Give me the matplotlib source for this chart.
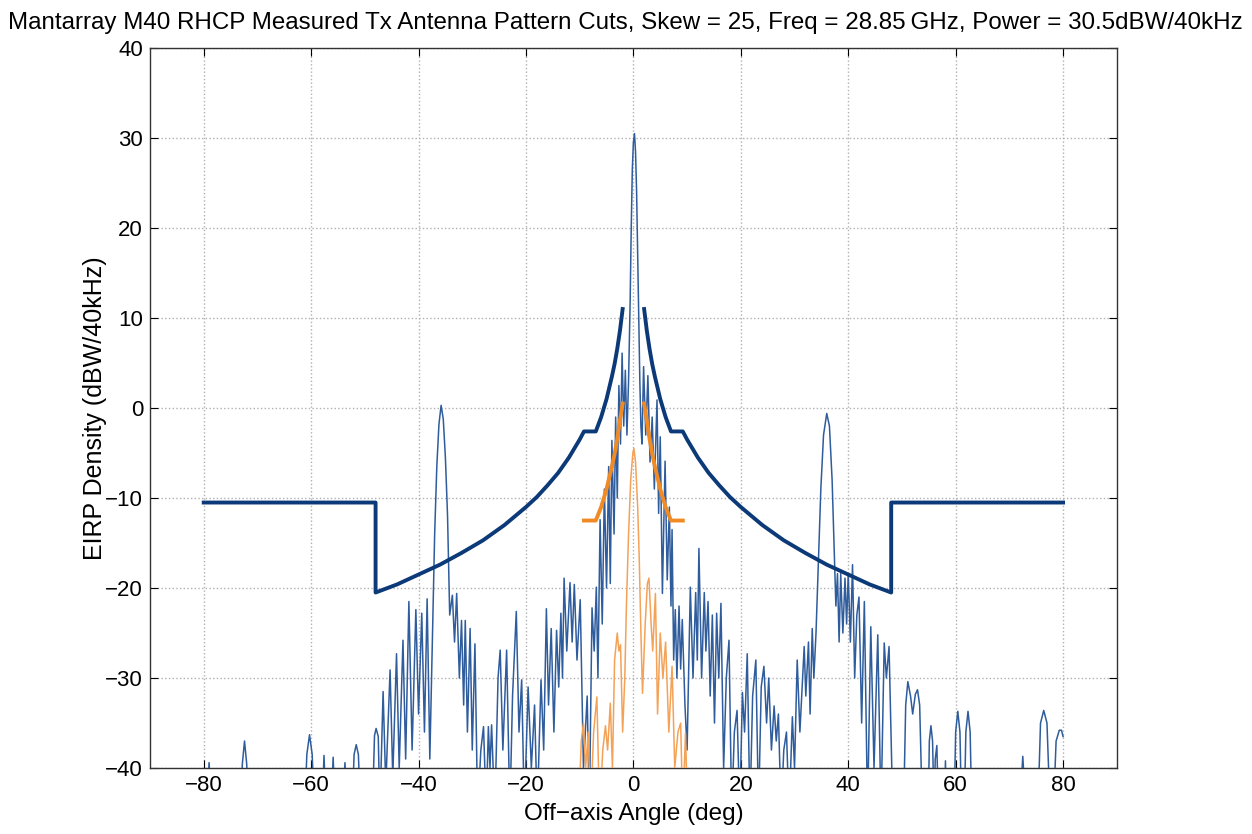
import numpy as np
import matplotlib
matplotlib.use('Agg')
import matplotlib.pyplot as plt

plt.rcParams['font.family'] = ['Liberation Sans', 'DejaVu Sans']

# Measured co-pol cut (thin blue), -45 means below the floor
copol_ang = [-80.0, -79.4, -79.0, -78.6,
             -73.2, -72.8, -72.4, -72.0, -71.6,
             -61.2, -60.8, -60.3, -59.8, -59.4,
             -58.0, -57.6, -57.2, -56.3, -55.9, -55.5, -54.1, -53.7, -53.3,
             -52.4, -52.0, -51.6, -51.2, -50.8,
             -48.6, -48.2, -47.9, -47.5, -47.2,
             -46.6, -46.1, -45.3, -44.8, -44.1, -43.6, -42.9, -42.4, -41.8, -41.2,
             -40.5, -40.0, -39.4, -38.9, -38.4, -37.9,
             -37.4, -37.0, -36.6, -36.2, -35.8, -35.4, -35.0, -34.6, -34.2,
             -33.7, -33.3, -32.9, -32.4, -32.0, -31.6, -31.3, -30.9, -30.4, -30.0,
             -29.5, -29.0, -28.4, -27.9, -27.4, -27.0, -26.7, -26.4, -25.8, -25.2,
             -24.8, -24.3, -23.6, -23.0, -22.5, -21.8, -21.3, -20.8, -20.3, -19.6,
             -19.0, -18.4, -17.9, -17.2, -16.7, -16.2, -15.8, -15.3, -14.8, -14.3,
             -13.9, -13.5, -13.2, -12.9, -12.4, -11.8, -11.4, -11.0, -10.5, -9.9,
             -9.3, -8.6, -8.2, -7.7, -7.3, -6.9, -6.6, -6.2, -5.8, -5.4,
             -5.0, -4.6, -4.3, -4.0, -3.6, -3.3, -3.0, -2.7, -2.4, -2.1,
             -1.8, -1.5, -1.2,
             -0.9, -0.6, -0.4, -0.2, 0.0, 0.2, 0.4, 0.6, 0.8, 1.0, 1.2, 1.4,
             1.6, 1.9, 2.3, 2.7, 3.1, 3.5, 3.9, 4.4, 4.7, 5.0,
             5.4, 5.9, 6.3, 6.7, 7.0, 7.2, 7.5, 7.8, 8.1, 8.5,
             8.8, 9.1, 9.6, 10.0, 10.6, 11.1, 11.6, 11.9, 12.2, 12.7,
             13.2, 13.5, 13.9, 14.3, 14.7, 15.1, 15.5, 15.9, 16.3, 16.8,
             17.3, 17.8, 18.3, 18.8, 19.3, 19.8, 20.3, 20.7, 21.2, 21.7,
             22.2, 22.8, 23.3, 23.8, 24.3, 24.8, 25.2, 25.7, 26.2, 26.6,
             27.0, 27.5, 28.0, 28.5, 29.0, 29.6, 30.0, 30.5, 31.0, 31.8,
             32.1, 32.6, 32.9, 33.3, 33.6,
             34.0, 34.4, 34.9, 35.4, 36.0, 36.5, 37.0, 37.4, 37.7,
             38.0, 38.3, 38.6, 39.0, 39.4, 39.7, 40.0, 40.4, 40.8, 41.2,
             41.6, 42.0, 42.5, 43.0, 43.6, 44.2, 44.8, 45.5, 46.1, 46.7,
             47.1, 47.6, 48.3,
             50.3, 50.7, 51.1, 51.6, 52.0, 52.5, 52.9, 53.3, 53.8,
             54.9, 55.1, 55.4, 55.7, 56.0, 56.2, 56.5, 56.8,
             57.9, 58.1, 58.3,
             59.7, 60.0, 60.4, 60.8, 61.1, 61.6, 61.9, 62.3, 62.7, 63.0,
             71.9, 72.5, 73.1,
             75.3, 75.8, 76.4, 77.0, 77.6, 78.2, 78.7, 79.3, 79.7, 80.0]
copol_db = [-45, -45, -39.4, -45,
            -45, -39.5, -37.0, -39.5, -45,
            -45, -38.5, -36.3, -38.5, -45,
            -45, -38.6, -45, -45, -38.8, -45, -45, -39.4, -45,
            -45, -38.5, -37.4, -38.5, -45,
            -45, -36.4, -35.6, -36.5, -45,
            -31.5, -42, -29.1, -41, -27.3, -40, -25.8, -39, -21.5, -38,
            -22.4, -34, -22.8, -36, -21.2, -39,
            -25, -14, -6.5, -1.8, 0.3, -1.2, -5.5, -12, -23,
            -20.8, -26, -20.6, -30, -23.6, -33, -23.6, -36, -24.5, -38,
            -26.2, -45, -38, -35.4, -45, -35.4, -40, -35.2, -45, -30,
            -26.9, -38, -26.9, -45, -32, -22.6, -36, -30.2, -45, -31,
            -40, -33, -45, -30.2, -38, -22.3, -33, -24.5, -36, -24.7,
            -31, -22.8, -30, -18.9, -27, -19.4, -26, -19.6, -28, -21.3,
            -40, -32, -45, -22.2, -27, -19.9, -30, -12.4, -24, -9,
            -20, -6.5, -19.5, -3.6, -14, -1.0, -10, 2.5, -4, 6.1,
            -2, 4.2, -3,
            3, 12, 20, 26.5, 29.5, 30.5, 28.5, 24, 17, 10, 3, -2,
            -4, 4.6, -3, 3.6, -6, -1, -9, 0.9, -11.7, -3.2,
            -20.6, -5.9, -19.1, -11, -22, -13.5, -28, -22.4, -30, -22,
            -29, -23.5, -33, -38, -19.9, -30, -20.5, -28, -15.6, -30,
            -20.5, -27, -21.5, -32, -23, -35, -22.8, -30, -21.7, -40,
            -30, -25.8, -45, -36, -33.6, -45, -31.6, -36, -27.3, -45,
            -32, -28, -45, -31, -28.7, -35, -30, -38, -33.1, -37,
            -34, -45, -38, -36, -45, -34.3, -40, -28, -36, -26.5,
            -32, -26, -34, -24.5, -30,
            -25, -18, -9, -3, -0.6, -2, -8, -16, -22,
            -18.4, -26, -18.4, -25, -18.9, -24, -18.4, -26, -17.4, -30,
            -23, -21, -35, -21.5, -45, -24.3, -40, -25.2, -45, -26.1,
            -30, -26.5, -45,
            -45, -33, -30.4, -32, -34, -31.8, -31.3, -33, -45,
            -45, -37, -35.3, -37, -45, -39, -37.5, -45,
            -45, -39.2, -45,
            -45, -36, -33.7, -36, -45, -45, -36, -33.7, -36, -45,
            -45, -38.7, -45,
            -45, -35, -33.6, -35, -45, -45, -37, -35.8, -35.8, -36.5]

# Measured cross-pol cut (thin orange)
xpol_ang = [-10.2, -9.7, -9.3, -8.9, -8.4, -8.0, -7.4, -6.8, -6.3, -5.7,
            -5.2, -4.8, -4.3, -3.9, -3.5, -3.0, -2.7, -2.4, -2.0, -1.6,
            -1.3, -0.9, -0.5, -0.1, 0.1, 0.4, 0.8, 1.1, 1.4, 1.7,
            2.2, 2.6, 2.9, 3.3, 3.6, 4.1, 4.5, 5.0, 5.5, 6.0,
            6.6, 7.2, 7.7, 8.3, 8.8, 9.2, 9.7, 10.1]
xpol_db = [-45, -37, -35.0, -40, -36, -45, -36, -32.1, -45, -38,
           -35.3, -38, -32.8, -40, -28, -25, -27, -26.3, -36, -30,
           -22, -14, -8, -5, -4.5, -6, -11, -17, -25, -31.7,
           -24, -19.5, -18.9, -24, -27, -20.6, -34, -25, -30, -26,
           -36, -28.7, -40, -36, -35, -45, -36.1, -45]

# Co-pol EIRP density mask (thick navy), right half; left half is its mirror
mask_ang = [2.0, 2.5, 3.0, 3.5, 4.0, 5.0, 6.0, 7.0, 9.2, 10.0, 12.0, 14.0, 16.0,
            18.0, 20.0, 24.0, 28.0, 32.0, 36.0, 40.0, 44.0, 48.0, 48.0, 80.0]
mask_db = [11.0, 8.6, 6.6, 4.9, 3.5, 1.0, -1.0, -2.6, -2.6, -3.5, -5.5, -7.2, -8.6,
           -9.9, -11.0, -13.0, -14.7, -16.1, -17.4, -18.5, -19.6, -20.5, -10.5, -10.5]

# Cross-pol mask (thick orange), right half
xmask_ang = [2.0, 2.5, 3.0, 3.5, 4.0, 5.0, 6.0, 7.0, 9.2]
xmask_db = [0.5, -1.4, -3.4, -5.1, -6.5, -9.0, -11.0, -12.5, -12.5]

blue = '#2f5c9c'
navy = '#0c3a78'
orange = '#f08a24'
light_orange = '#f4a257'

fig = plt.figure(figsize=(12.52, 8.34), dpi=100)
ax = fig.add_axes([0.1198, 0.0791, 0.7722, 0.8633])

ma = np.array(mask_ang)
md = np.array(mask_db)
xa = np.array(xmask_ang)
xd = np.array(xmask_db)

ax.plot(copol_ang, copol_db, color=blue, lw=1.1, zorder=3)
ax.plot(xpol_ang, xpol_db, color=light_orange, lw=1.1, zorder=3)
ax.plot(-ma[::-1], md[::-1], color=navy, lw=2.8, zorder=4)
ax.plot(ma, md, color=navy, lw=2.8, zorder=4)
ax.plot(-xa[::-1], xd[::-1], color=orange, lw=2.8, zorder=4)
ax.plot(xa, xd, color=orange, lw=2.8, zorder=4)

ax.set_xlim(-90, 90)
ax.set_ylim(-40, 40)
ax.set_xticks(np.arange(-80, 81, 20))
ax.set_yticks(np.arange(-40, 41, 10))
ax.tick_params(direction='in', top=True, right=True, length=6, labelsize=16, pad=5)
ax.grid(True, linestyle=':', color='#b0b0b0', linewidth=1.0)
for s in ax.spines.values():
    s.set_linewidth(1.0)
    s.set_color('#333333')

ax.set_xlabel('Off\u2212axis Angle (deg)', fontsize=17.5, labelpad=5)
ax.set_ylabel('EIRP Density (dBW/40kHz)', fontsize=18, labelpad=-1)
# title is wider than the axes; centre it on the figure so it stays whole
ax.set_title('Mantarray M40 RHCP Measured Tx Antenna Pattern Cuts, Skew = 25, '
             'Freq = 28.85\u2009GHz, Power = 30.5dBW/40kHz', fontsize=17.4, pad=14, x=0.492)

fig.savefig('out.png', dpi=100)
